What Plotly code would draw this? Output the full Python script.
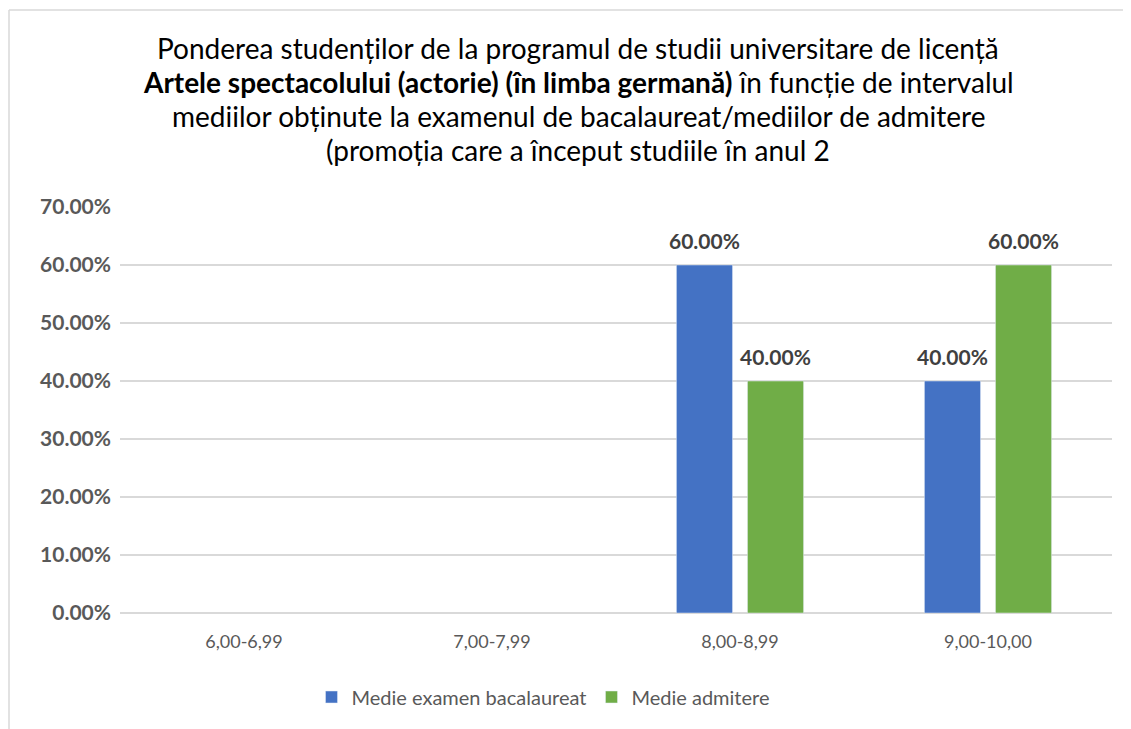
import plotly.graph_objects as go

categories = ["6,00-6,99", "7,00-7,99", "8,00-8,99", "9,00-10,00"]
bac_values = [None, None, 0.60, 0.40]
adm_values = [None, None, 0.40, 0.60]
series_names = ["Medie examen bacalaureat", "Medie admitere"]
title_lines = [
    "Ponderea studenților de la programul de studii universitare de licență",
    "<b>Artele spectacolului (actorie) (în limba germană)</b> în funcție de intervalul",
    "mediilor obținute la examenul de bacalaureat/mediilor de admitere",
    "(promoția care a început studiile în anul 2",
]

FONT = "Lato, Carlito, Calibri, sans-serif"
L, R, T, B = 112, 27, 199, 124
W, H = 1131, 729
PW, PH = W - L - R, H - T - B

fig = go.Figure()
series = [(series_names[0], bac_values, "#4472C4", -35.5),
          (series_names[1], adm_values, "#70AD47", 35.5)]
for name, vals, col, shift in series:
    fig.add_trace(go.Bar(x=categories, y=vals, name=name, marker_color=col))
    for c, v in zip(categories, vals):
        if v is None:
            continue
        fig.add_annotation(x=c, y=v, xref="x", yref="y", text="<b>%.2f%%</b>" % (v * 100),
                           showarrow=False, xshift=shift, yshift=25, yanchor="middle",
                           font=dict(family=FONT, size=21, color="#404040"))

title_y = [40, 74, 108, 142]
for line, yy in zip(title_lines, title_y):
    fig.add_annotation(text=line, xref="paper", yref="paper", x=(570 - L) / PW,
                       y=1 + (T - yy) / PH,
                       xanchor="center", yanchor="middle", showarrow=False,
                       font=dict(family=FONT, size=28, color="#000000"))

fig.add_shape(type="line", xref="paper", yref="paper",
              x0=(1 - L) / PW, x1=1.05, y0=1 + (T - 2) / PH, y1=1 + (T - 2) / PH,
              line=dict(color="#d9d9d9", width=1.5))
fig.add_shape(type="line", xref="paper", yref="paper",
              x0=(1 - L) / PW, x1=(1 - L) / PW, y0=1 + (T - 2) / PH, y1=-0.4,
              line=dict(color="#d9d9d9", width=1.5))

fig.update_layout(
    width=W, height=H,
    margin=dict(l=L, r=R, t=T, b=B),
    paper_bgcolor="white", plot_bgcolor="white",
    barmode="group", bargap=0.427, bargroupgap=0.21,
    font=dict(family=FONT),
    showlegend=True,
    legend=dict(orientation="h", x=(535 - L) / PW, xanchor="center", y=(PH - (689 - T)) / PH,
                yanchor="middle", font=dict(family=FONT, size=20, color="#595959"),
                traceorder="normal"),
    yaxis=dict(range=[0, 0.7], dtick=0.1, tickformat=".2%",
               gridcolor="#d9d9d9", gridwidth=1.5, zeroline=True, zerolinecolor="#d9d9d9",
               zerolinewidth=1.5, ticks="", ticklabelstandoff=8,
               tickfont=dict(family=FONT, size=21, color="#595959", weight="bold")),
    xaxis=dict(showline=False, ticks="", ticklabelstandoff=16,
               tickfont=dict(family=FONT, size=18, color="#595959")),
)
fig.write_html("out.html")
